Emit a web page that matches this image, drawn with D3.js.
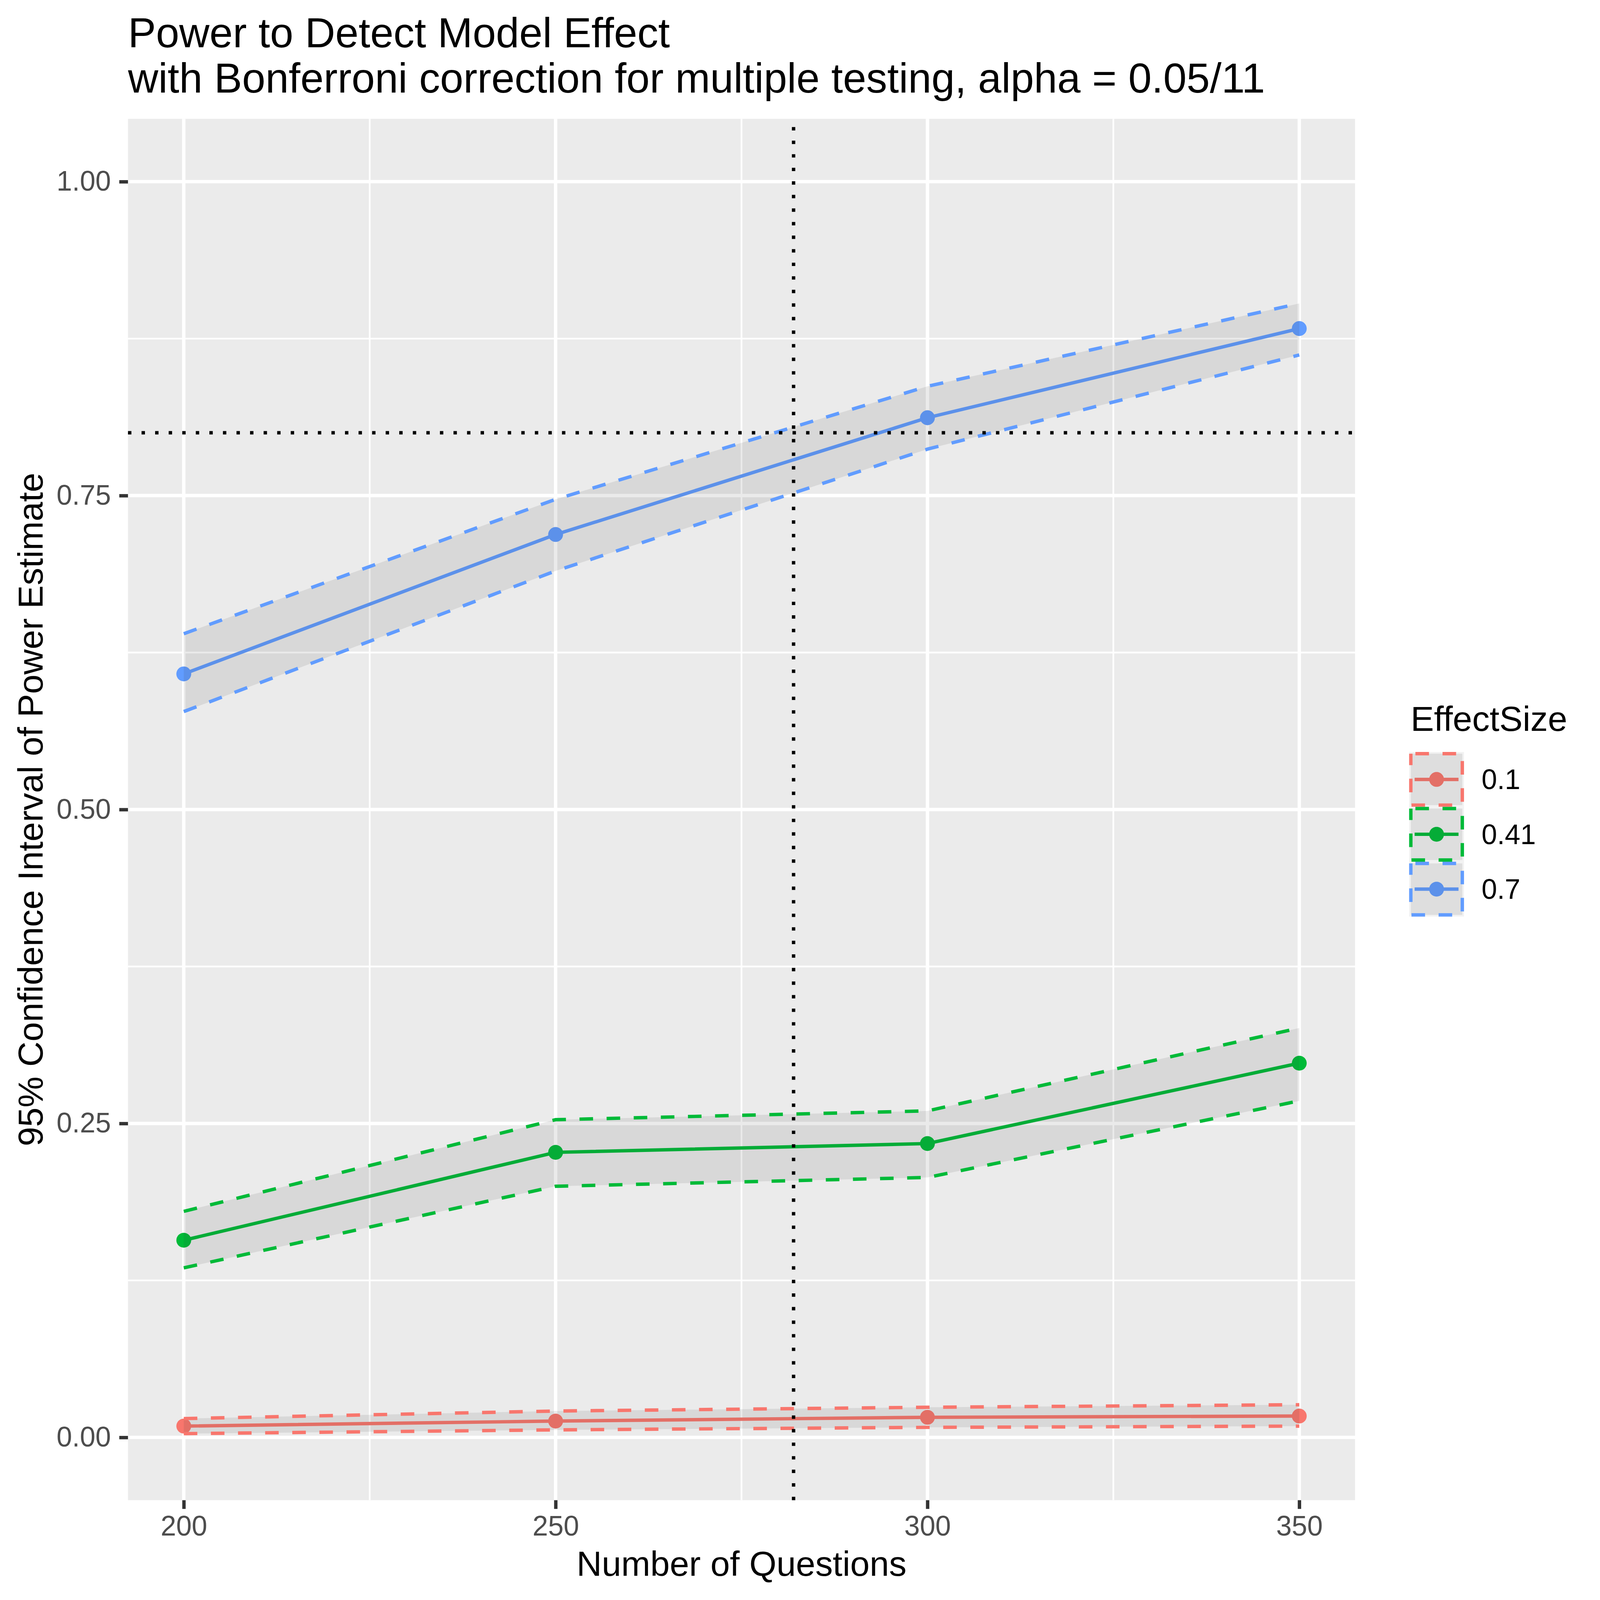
<!DOCTYPE html>
<html>
<head>
<meta charset="utf-8">
<script src="https://cdn.jsdelivr.net/npm/d3@7"></script>
<style>
  html, body { margin: 0; padding: 0; width: 100%; height: 100%; overflow: hidden; background: #fff; }
  .chart { width: 100vw; height: 100vh; }
  svg { display: block; width: 100%; height: 100%; font-family: "Liberation Sans", Arial, sans-serif; }
</style>
</head>
<body>
<div class="chart"></div>
<script>
const questions = [200, 250, 300, 350]
const effectSizes = ['0.1', '0.41', '0.7']
const colours = ['#F8766D', '#00BA38', '#619CFF']

// point estimate and 95% CI bounds, one array per effect size
const power01 = [0.009, 0.013, 0.016, 0.017]
const lower01 = [0.003, 0.006, 0.008, 0.009]
const upper01 = [0.015, 0.021, 0.024, 0.026]

const power041 = [0.157, 0.227, 0.234, 0.298]
const lower041 = [0.135, 0.200, 0.207, 0.268]
const upper041 = [0.180, 0.253, 0.260, 0.326]

const power07 = [0.608, 0.719, 0.812, 0.883]
const lower07 = [0.578, 0.690, 0.787, 0.862]
const upper07 = [0.640, 0.747, 0.837, 0.903]

const xTicks = [200, 250, 300, 350]
const xMinor = [225, 275, 325]
const yTicks = [0, 0.25, 0.5, 0.75, 1]
const yMinor = [0.125, 0.375, 0.625, 0.875]
const targetPower = 0.8
const chosenQuestions = 282

const titleLines = ['Power to Detect Model Effect', 'with Bonferroni correction for multiple testing, alpha = 0.05/11']

document.addEventListener('DOMContentLoaded', start)

function start () {
  const series = [
    { name: effectSizes[0], colour: colours[0], mean: power01, lo: lower01, hi: upper01 },
    { name: effectSizes[1], colour: colours[1], mean: power041, lo: lower041, hi: upper041 },
    { name: effectSizes[2], colour: colours[2], mean: power07, lo: lower07, hi: upper07 }
  ]
  // drawn in a 4200 user space, stretched to whatever the viewport really is
  const svg = d3.select('.chart').append('svg')
    .attr('viewBox', '0 0 4200 4200')
    .attr('preserveAspectRatio', 'none')
  const panel = { left: 336, right: 3557, top: 312, bottom: 3938 }
  const x = d3.scaleLinear().domain([192.5, 357.5]).range([panel.left, panel.right])
  const y = d3.scaleLinear().domain([-0.05, 1.05]).range([panel.bottom, panel.top])
  drawPanel(svg, panel, x, y)
  drawSeries(svg, series, x, y)
  drawRefLines(svg, panel, x, y)
  drawAxes(svg, panel, x, y)
  drawTitles(svg, panel)
  drawLegend(svg, series)
}

const LW = 8.9 // 0.5mm line at 600dpi
const DASH = `${4 * LW} ${4 * LW}`
const DOT = `${LW} ${3 * LW}`

function drawPanel (svg, panel, x, y) {
  const g = svg.append('g')
  g.append('rect')
    .attr('x', panel.left).attr('y', panel.top)
    .attr('width', panel.right - panel.left).attr('height', panel.bottom - panel.top)
    .attr('fill', '#EBEBEB')
  // minor grid
  g.selectAll('.xminor').data(xMinor).enter().append('line')
    .attr('x1', d => x(d)).attr('x2', d => x(d))
    .attr('y1', panel.top).attr('y2', panel.bottom)
    .attr('stroke', '#fff').attr('stroke-width', LW / 2)
  g.selectAll('.yminor').data(yMinor).enter().append('line')
    .attr('y1', d => y(d)).attr('y2', d => y(d))
    .attr('x1', panel.left).attr('x2', panel.right)
    .attr('stroke', '#fff').attr('stroke-width', LW / 2)
  // major grid
  g.selectAll('.xmajor').data(xTicks).enter().append('line')
    .attr('x1', d => x(d)).attr('x2', d => x(d))
    .attr('y1', panel.top).attr('y2', panel.bottom)
    .attr('stroke', '#fff').attr('stroke-width', LW)
  g.selectAll('.ymajor').data(yTicks).enter().append('line')
    .attr('y1', d => y(d)).attr('y2', d => y(d))
    .attr('x1', panel.left).attr('x2', panel.right)
    .attr('stroke', '#fff').attr('stroke-width', LW)
}

function drawSeries (svg, series, x, y) {
  const line = d3.line()
    .x((d, i) => x(questions[i]))
    .y(d => y(d))
  const area = d3.area()
    .x((d, i) => x(questions[i]))
    .y0(d => y(d[0]))
    .y1(d => y(d[1]))

  series.forEach(s => {
    const g = svg.append('g')
    g.append('path')
      .attr('d', line(s.mean))
      .attr('fill', 'none')
      .attr('stroke', s.colour)
      .attr('stroke-width', LW)
    g.selectAll('circle').data(s.mean).enter().append('circle')
      .attr('cx', (d, i) => x(questions[i]))
      .attr('cy', d => y(d))
      .attr('r', 19.5)
      .attr('fill', s.colour)
  })

  // ribbons go on top of the lines, like the ggplot layer order
  series.forEach(s => {
    const g = svg.append('g')
    g.append('path')
      .attr('d', area(s.lo.map((v, i) => [v, s.hi[i]])))
      .attr('fill', '#333333')
      .attr('fill-opacity', 0.1)
    ;[s.hi, s.lo].forEach(b => {
      g.append('path')
        .attr('d', line(b))
        .attr('fill', 'none')
        .attr('stroke', s.colour)
        .attr('stroke-width', LW)
        .attr('stroke-dasharray', DASH)
    })
  })
}

function drawRefLines (svg, panel, x, y) {
  svg.append('line')
    .attr('x1', panel.left).attr('x2', panel.right)
    .attr('y1', y(targetPower)).attr('y2', y(targetPower))
    .attr('stroke', '#000').attr('stroke-width', LW)
    .attr('stroke-dasharray', DOT)
  svg.append('line')
    .attr('x1', x(chosenQuestions)).attr('x2', x(chosenQuestions))
    .attr('y1', panel.bottom).attr('y2', panel.top)
    .attr('stroke', '#000').attr('stroke-width', LW)
    .attr('stroke-dasharray', DOT)
}

function drawAxes (svg, panel, x, y) {
  const xAxis = d3.axisBottom(x)
    .tickValues(xTicks)
    .tickSize(22.9)
    .tickPadding(18)
    .tickFormat(d3.format('d'))
  const gx = svg.append('g')
    .attr('transform', `translate(0,${panel.bottom})`)
    .call(xAxis)
  gx.select('.domain').remove()
  gx.selectAll('line').attr('stroke', '#333333').attr('stroke-width', LW)
  gx.selectAll('text')
    .attr('font-size', 73.3)
    .attr('fill', '#4D4D4D')
    .attr('dy', '0.71em')

  const yAxis = d3.axisLeft(y)
    .tickValues(yTicks)
    .tickSize(22.9)
    .tickPadding(22)
    .tickFormat(d3.format('.2f'))
  const gy = svg.append('g')
    .attr('transform', `translate(${panel.left},0)`)
    .call(yAxis)
  gy.select('.domain').remove()
  gy.selectAll('line').attr('stroke', '#333333').attr('stroke-width', LW)
  gy.selectAll('text')
    .attr('font-size', 73.3)
    .attr('fill', '#4D4D4D')

  svg.append('text')
    .attr('x', (panel.left + panel.right) / 2)
    .attr('y', 4136)
    .attr('text-anchor', 'middle')
    .attr('font-size', 91.7)
    .text('Number of Questions')

  svg.append('text')
    .attr('transform', `translate(112,${(panel.top + panel.bottom) / 2}) rotate(-90)`)
    .attr('text-anchor', 'middle')
    .attr('font-size', 91.7)
    .text('95% Confidence Interval of Power Estimate')
}

function drawTitles (svg, panel) {
  svg.selectAll('.title').data(titleLines).enter().append('text')
    .attr('class', 'title')
    .attr('x', panel.left)
    .attr('y', (d, i) => 124 + i * 119)
    .attr('font-size', 110)
    .text(d => d)
}

function drawLegend (svg, series) {
  const left = 3699
  const top = 1974
  const key = 144
  const g = svg.append('g')
  g.append('text')
    .attr('x', 3703)
    .attr('y', 1918)
    .attr('font-size', 91.7)
    .text('EffectSize')

  series.forEach((s, i) => {
    const ky = top + i * key
    const cy = ky + key / 2
    g.append('rect')
      .attr('x', left).attr('y', ky)
      .attr('width', key).attr('height', key)
      .attr('fill', '#F2F2F2')
    g.append('line')
      .attr('x1', left + key * 0.1).attr('x2', left + key * 0.9)
      .attr('y1', cy).attr('y2', cy)
      .attr('stroke', s.colour).attr('stroke-width', LW)
    g.append('circle')
      .attr('cx', left + key / 2).attr('cy', cy)
      .attr('r', 19.5)
      .attr('fill', s.colour)
    g.append('rect')
      .attr('x', left + LW / 2).attr('y', ky + LW / 2)
      .attr('width', key - LW).attr('height', key - LW)
      .attr('fill', '#333333').attr('fill-opacity', 0.1)
      .attr('stroke', s.colour).attr('stroke-width', LW)
      .attr('stroke-dasharray', DASH)
      .attr('stroke-dashoffset', -12)
    g.append('text')
      .attr('x', 3889)
      .attr('y', cy)
      .attr('dy', '0.35em')
      .attr('font-size', 73.3)
      .text(s.name)
  })
}
</script>
</body>
</html>
